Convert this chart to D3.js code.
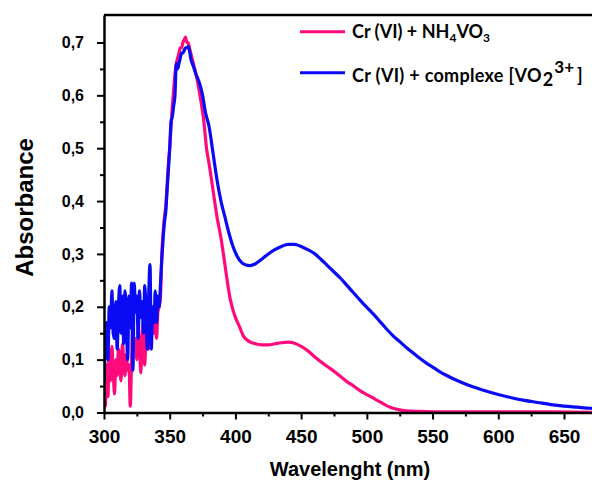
<!DOCTYPE html>
<html>
<head>
<meta charset="utf-8">
<script src="https://cdn.jsdelivr.net/npm/d3@7"></script>
<style>
  html, body { margin: 0; padding: 0; background: #fff; overflow: hidden; }
  svg { display: block; }
</style>
</head>
<body>
<svg id="chart" width="592" height="480"></svg>
<script>
// ---------- data ----------
const seriesNames = ["Cr (VI) + NH4VO3", "Cr (VI) + complexe [VO2 3+]"];

const wavelengthNH4 = [
  300,301,302,303,304,305,306,307,308,309,310,311,312,313,314,315,316,317,318,319,
  320,321,322,323,324,325,326,327,328,329,330,331,332,333,334,335,336,337,338,339,
  340,341,342,343,344,345,346,347,348,349,350,351,352,353,354,355,356,357,358,359,
  360,361,362,363,364,365,366,368,370,373,376,378,380,383,386,389,392,394,396,398,
  400,403,406,410,414,420,425,430,435,440,445,450,455,460,465,470,475,480,485,490,
  495,500,505,510,515,520,525,530,540,560,600,640,700
];
const absorbanceNH4 = [
  0.05,0.012,0.09,0.03,0.12,0.06,0.125,0.08,0.035,0.10,0.07,0.12,0.09,0.06,0.13,0.10,0.07,0.11,0.08,0.09,
  0.012,0.10,0.16,0.12,0.14,0.10,0.16,0.13,0.075,0.14,0.17,0.09,0.15,0.18,0.12,0.16,0.14,0.19,0.15,0.18,
  0.14,0.19,0.20,0.22,0.30,0.34,0.37,0.39,0.43,0.47,0.50,0.54,0.58,0.61,0.64,0.66,0.67,0.68,0.69,0.69,
  0.70,0.705,0.71,0.70,0.70,0.69,0.68,0.66,0.64,0.60,0.55,0.50,0.47,0.42,0.37,0.33,0.28,0.245,0.215,0.195,
  0.18,0.163,0.145,0.135,0.131,0.128,0.128,0.130,0.132,0.133,0.131,0.125,0.117,0.106,0.096,0.087,0.078,0.068,0.058,0.050,
  0.041,0.034,0.027,0.020,0.013,0.008,0.005,0.003,0.002,0.001,0.001,0.001,0.0
];

const wavelengthVO2 = [
  300,301,302,303,304,305,306,307,308,309,310,311,312,313,314,315,316,317,318,319,
  320,321,322,323,324,325,326,327,328,329,330,331,332,333,334,335,336,337,338,339,
  340,341,342,343,344,345,346,347,348,349,350,351,352,353,354,355,356,357,358,359,
  360,361,362,363,364,365,366,368,370,373,375,377,380,383,386,389,392,395,398,401,
  405,408,411,415,420,425,430,435,440,445,450,455,460,465,470,475,480,485,490,495,
  500,505,510,515,520,525,530,535,540,545,550,555,560,570,580,590,600,610,620,630,
  640,650,660,670,680,700
];
const absorbanceVO2 = [
  0.06,0.12,0.17,0.10,0.20,0.16,0.23,0.15,0.14,0.21,0.12,0.20,0.24,0.15,0.22,0.13,0.23,0.18,0.10,0.22,
  0.16,0.245,0.08,0.245,0.19,0.22,0.14,0.23,0.18,0.21,0.15,0.24,0.19,0.12,0.22,0.28,0.12,0.20,0.17,0.23,
  0.17,0.22,0.20,0.245,0.29,0.33,0.36,0.38,0.42,0.46,0.50,0.55,0.56,0.58,0.60,0.66,0.65,0.66,0.67,0.68,
  0.68,0.685,0.69,0.69,0.692,0.685,0.67,0.655,0.64,0.62,0.60,0.57,0.54,0.49,0.44,0.40,0.37,0.34,0.315,0.297,
  0.283,0.279,0.278,0.281,0.290,0.300,0.308,0.314,0.318,0.318,0.314,0.308,0.301,0.290,0.278,0.266,0.254,0.240,0.226,0.212,
  0.199,0.186,0.172,0.158,0.145,0.134,0.123,0.113,0.103,0.094,0.086,0.078,0.071,0.059,0.049,0.041,0.034,0.028,0.023,0.019,
  0.015,0.012,0.010,0.008,0.007,0.006
];

const xMajorTicks = [300,350,400,450,500,550,600,650];
const xMinorTicks = [325,375,425,475,525,575,625,675];
const yMajorTicks = [0.0,0.1,0.2,0.3,0.4,0.5,0.6,0.7];
const yMinorTicks = [0.05,0.15,0.25,0.35,0.45,0.55,0.65];

const colors = ["#ff0a7d", "#0a0af5"];

// ---------- chart ----------
const svg = d3.select("#chart");
const x = d3.scaleLinear().domain([300, 700]).range([104, 629.7]);
const y = d3.scaleLinear().domain([0, 0.752]).range([412.5, 15]);
const fmtY = v => d3.format(".1f")(v).replace(".", ",");

const line = d3.line()
  .x(d => x(d[0])).y(d => y(d[1]))
  .curve(d3.curveMonotoneX);

const dataNH4 = wavelengthNH4.map((w, i) => [w, absorbanceNH4[i]]);
const dataVO2 = wavelengthVO2.map((w, i) => [w, absorbanceVO2[i]]);

svg.append("defs").append("clipPath").attr("id", "clip")
  .append("rect").attr("x", 104).attr("y", 15).attr("width", 540).attr("height", 398);

const gLines = svg.append("g").attr("clip-path", "url(#clip)");
gLines.append("path").datum(dataNH4).attr("d", line)
  .attr("fill", "none").attr("stroke", colors[0]).attr("stroke-width", 3.2)
  .attr("stroke-linejoin", "round");
gLines.append("path").datum(dataVO2).attr("d", line)
  .attr("fill", "none").attr("stroke", colors[1]).attr("stroke-width", 3.2)
  .attr("stroke-linejoin", "round");

// top frame line
svg.append("line").attr("x1", x(300)).attr("x2", x(700))
  .attr("y1", y.range()[1]).attr("y2", y.range()[1])
  .attr("stroke", "#000").attr("stroke-width", 2.5);

// x axis
const xAxisMajor = d3.axisBottom(x).tickValues(xMajorTicks).tickSize(7).tickSizeOuter(0).tickPadding(10);
const gx = svg.append("g").attr("transform", `translate(0,${y(0)})`).call(xAxisMajor);
gx.select(".domain").attr("stroke-width", 2.5);
gx.selectAll(".tick line").attr("stroke-width", 2);
gx.selectAll(".tick text")
  .attr("font-family", "Liberation Sans, Arial, sans-serif")
  .attr("font-weight", "bold").attr("font-size", 19).attr("fill", "#000");
const gxm = svg.append("g").attr("transform", `translate(0,${y(0)})`)
  .call(d3.axisBottom(x).tickValues(xMinorTicks).tickSize(4).tickFormat(""));
gxm.select(".domain").remove();
gxm.selectAll(".tick line").attr("stroke-width", 2);

// y axis
const gy = svg.append("g").attr("transform", `translate(${x(300)},0)`)
  .call(d3.axisLeft(y).tickValues(yMajorTicks).tickSize(7).tickSizeOuter(0).tickPadding(13).tickFormat(fmtY));
gy.select(".domain").attr("stroke-width", 2.5);
gy.selectAll(".tick line").attr("stroke-width", 2);
gy.selectAll(".tick text")
  .attr("font-family", "Liberation Sans, Arial, sans-serif")
  .attr("font-weight", "bold").attr("font-size", 16).attr("fill", "#000");
const gym = svg.append("g").attr("transform", `translate(${x(300)},0)`)
  .call(d3.axisLeft(y).tickValues(yMinorTicks).tickSize(4).tickFormat(""));
gym.select(".domain").remove();
gym.selectAll(".tick line").attr("stroke-width", 2);

// axis titles
svg.append("text")
  .attr("x", 350).attr("y", 476)
  .attr("text-anchor", "middle")
  .attr("font-family", "Liberation Sans, Arial, sans-serif")
  .attr("font-weight", "bold").attr("font-size", 20)
  .text("Wavelenght (nm)");

svg.append("text")
  .attr("transform", "translate(33,207.5) rotate(-90)")
  .attr("text-anchor", "middle")
  .attr("font-family", "Liberation Sans, Arial, sans-serif")
  .attr("font-weight", "bold").attr("font-size", 24)
  .text("Absorbance");

// legend
const legend = svg.append("g")
  .attr("font-family", "Lato, 'Open Sans', sans-serif")
  .attr("font-weight", "bold").attr("font-size", 18).attr("fill", "#000");

legend.append("line").attr("x1", 300).attr("x2", 345).attr("y1", 31.7).attr("y2", 31.7)
  .attr("stroke", colors[0]).attr("stroke-width", 3);
const t1 = legend.append("text").attr("x", 352).attr("y", 38.3);
t1.append("tspan").text("Cr (VI) + NH");
t1.append("tspan").attr("font-size", 12).attr("dy", 4).text("4");
t1.append("tspan").attr("dy", -4).text("VO");
t1.append("tspan").attr("font-size", 12).attr("dy", 4).text("3");

legend.append("line").attr("x1", 300).attr("x2", 345).attr("y1", 72.7).attr("y2", 72.7)
  .attr("stroke", colors[1]).attr("stroke-width", 3);
const t2 = legend.append("text").attr("x", 352).attr("y", 81.7);
t2.append("tspan").attr("letter-spacing", 0.3).text("Cr (VI) + complexe [VO");
t2.append("tspan").attr("font-size", 18).attr("dx", 1).attr("dy", 4).text("2");
t2.append("tspan").attr("font-size", 17).attr("dx", 1).attr("dy", -13).text("3+");
t2.append("tspan").attr("dx", 3).attr("dy", 9).text("]");
</script>
</body>
</html>
